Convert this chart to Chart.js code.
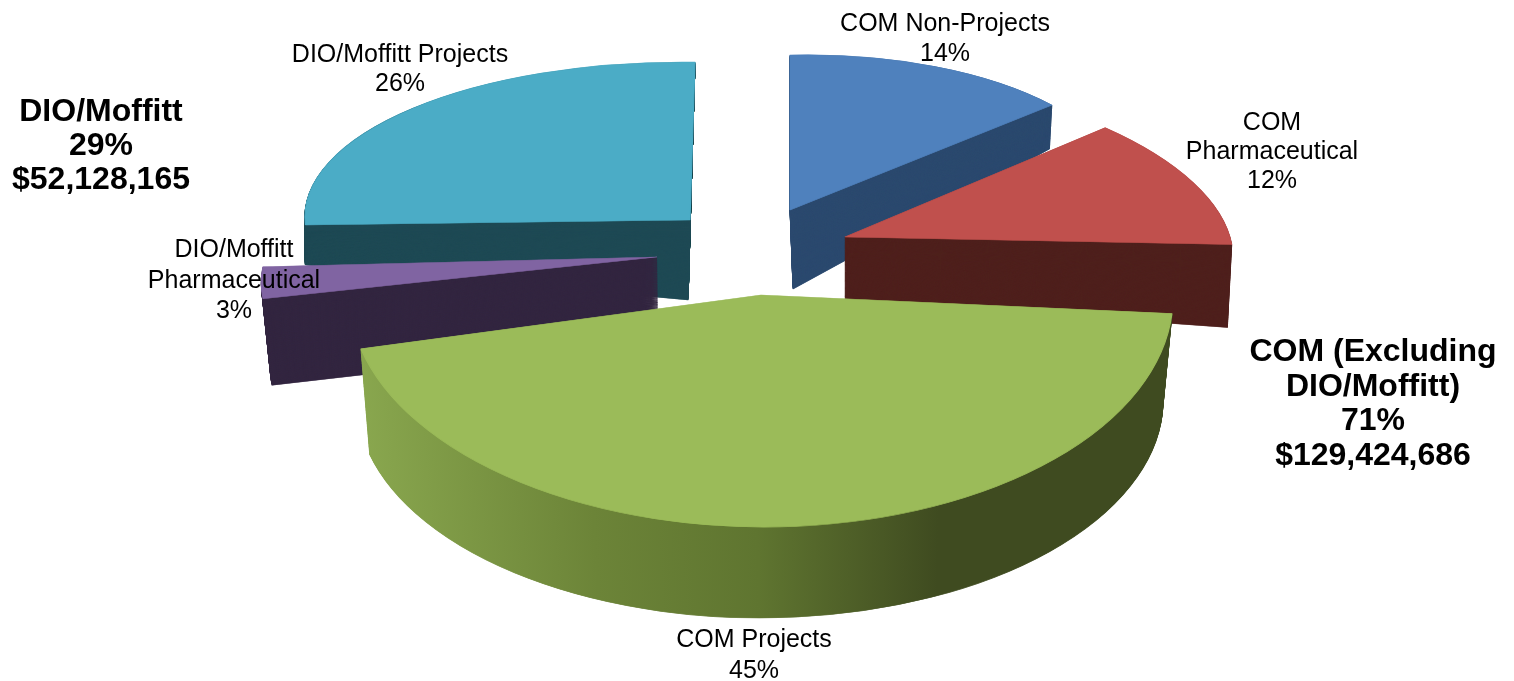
<!DOCTYPE html>
<html>
<head>
<meta charset="utf-8">
<style>html,body{margin:0;padding:0;background:#fff;overflow:hidden}canvas{display:block}</style>
<script src="https://cdn.jsdelivr.net/npm/chart.js@4"></script>
</head>
<body>
<canvas id="c" width="1514" height="681"></canvas>
<script>
const categories = ['COM Non-Projects', 'COM Pharmaceutical', 'COM Projects', 'DIO/Moffitt Pharmaceutical', 'DIO/Moffitt Projects'];
const shares = [14, 12, 45, 3, 26];
const topColors = ['#4f81bd', '#c0504d', '#9bbb59', '#8064a2', '#4bacc6'];
const wallColors = ['#2c4a6f', '#4f201d', null, '#332640', '#1f4a55'];
const groupNames = ['DIO/Moffitt', 'COM (Excluding DIO/Moffitt)'];
const groupShares = [29, 71];
const groupAmounts = ['$52,128,165', '$129,424,686'];

// View of each slice: [originX, originY, xAxisX, xAxisY, yAxisX, yAxisY] for its top face and its base
const views = [
  { top: [790, 210, 340, -8, 0, 155],   base: [793, 289, 333, -37, 0, 175] },
  { top: [845, 237, 384, -3, 56, 168],  base: [845, 300, 380, 16, 50, 185] },
  { top: [761, 295, 412, 4, -4, 232],   base: [760, 400, 403, 0, 0, 218] },
  { top: [657, 257, 391, 1, -61, 172],  base: [658, 341, 383, 3, -60, 190] },
  { top: [690, 220, 385, 5, -5, 158],   base: [688, 300, 383, 46, -5, 175] }
];
const paintOrder = [4, 0, 1, 3, 2];
const greenWallStops = [[0, '#8aa84f'], [0.3, '#6c8438'], [0.5, '#5f7530'], [0.72, '#3f4b20'], [1, '#3f4b20']];

// [text lines, centre x, first line centre y, line step, bold]
const labelBlocks = [
  [['COM Non-Projects', shares[0] + '%'], 945, 24.5, 30, false],
  [['COM', 'Pharmaceutical', shares[1] + '%'], 1272, 123, 29, false],
  [['COM Projects', shares[2] + '%'], 754, 640.5, 31, false],
  [['DIO/Moffitt', 'Pharmaceutical', shares[3] + '%'], 234, 250.5, 30.5, false],
  [['DIO/Moffitt Projects', shares[4] + '%'], 400, 55.5, 29, false],
  [['DIO/Moffitt', groupShares[0] + '%', groupAmounts[0]], 101, 112.5, 34, true],
  [['COM (Excluding', 'DIO/Moffitt)', groupShares[1] + '%', groupAmounts[1]], 1373, 352.5, 34.5, true]
];

function drawFace(arc, ctx, view, fill) {
  const R = arc.outerRadius;
  const twin = Object.create(arc, { options: { value: Object.assign({}, arc.options, {
    backgroundColor: fill, borderColor: fill, borderWidth: 1
  }) } });
  ctx.save();
  ctx.transform(view[2] / R, view[3] / R, view[4] / R, view[5] / R, view[0], view[1]);
  ctx.translate(-arc.x, -arc.y);
  twin.draw(ctx);
  ctx.restore();
}

const pie3d = {
  id: 'pie3d',
  beforeDatasetsDraw(chart) {
    const ctx = chart.ctx;
    const arcs = chart.getDatasetMeta(0).data;
    paintOrder.forEach(i => {
      const arc = arcs[i];
      const R = arc.outerRadius;
      const v = views[i];
      let wall = wallColors[i];
      if (!wall) {
        wall = ctx.createLinearGradient(arc.x - R, 0, arc.x + R, 0);
        greenWallStops.forEach(s => wall.addColorStop(s[0], s[1]));
      }
      const steps = 130;
      for (let s = 0; s < steps; s++) {
        const t = 1 - s / steps;
        const m = v.top.map((a, k) => a + (v.base[k] - a) * t);
        drawFace(arc, ctx, m, wall);
      }
      drawFace(arc, ctx, v.top, topColors[i]);
    });
    return false;
  },
  afterDraw(chart) {
    const ctx = chart.ctx;
    ctx.save();
    ctx.fillStyle = '#000';
    ctx.textAlign = 'center';
    ctx.textBaseline = 'middle';
    labelBlocks.forEach(b => {
      ctx.font = (b[4] ? 'bold 32px' : '25px') + ' "Liberation Sans", Arial, sans-serif';
      b[0].forEach((line, n) => ctx.fillText(line, b[1], b[2] + n * b[3]));
    });
    ctx.restore();
  }
};

new Chart(document.getElementById('c'), {
  type: 'pie',
  data: { labels: categories, datasets: [{ data: shares, backgroundColor: topColors, borderWidth: 0 }] },
  options: {
    responsive: false,
    animation: false,
    rotation: 0,
    plugins: { legend: { display: false }, tooltip: { enabled: false } }
  },
  plugins: [pie3d]
});
</script>
</body>
</html>
